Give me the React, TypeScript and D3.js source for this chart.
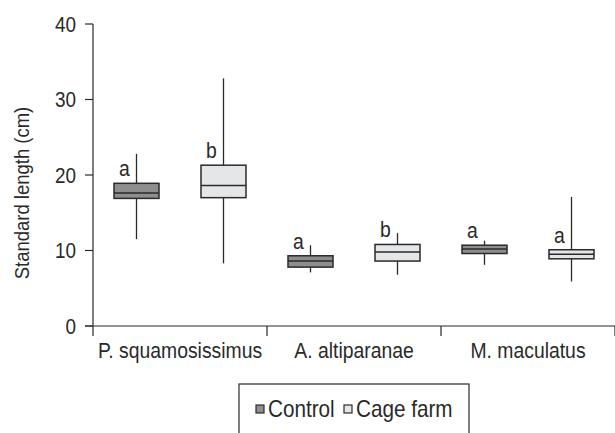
import * as d3 from "d3";

const species = ["P. squamosissimus", "A. altiparanae", "M. maculatus"];
const groups = ["Control", "Cage farm"];
const groupFill = ["#8e8e90", "#e5e6e8"];

// [min, q1, median, q3, max]
const controlStats = [
  [11.5, 16.9, 17.6, 18.9, 22.8],
  [7.1, 7.8, 8.6, 9.3, 10.7],
  [8.1, 9.6, 10.2, 10.7, 11.3],
];
const cageStats = [
  [8.3, 17.0, 18.6, 21.3, 32.8],
  [6.8, 8.6, 9.8, 10.8, 12.3],
  [5.9, 8.9, 9.5, 10.1, 17.1],
];
const controlLetters = ["a", "a", "a"];
const cageLetters = ["b", "b", "a"];
const yTicks = [0, 10, 20, 30, 40];

const width = 615;
const height = 433;
const marginLeft = 93;
const marginTop = 24;
const plotBottom = 326;
const font = "'Liberation Sans', Arial, sans-serif";
const ink = "#2a2a2a";

// narrow-looking text: a taller font squeezed horizontally
function Label({
  x,
  y,
  size,
  anchor = "start",
  squeeze = 0.88,
  rotate = 0,
  dy,
  children,
}: {
  x: number;
  y: number;
  size: number;
  anchor?: string;
  squeeze?: number;
  rotate?: number;
  dy?: string;
  children: React.ReactNode;
}) {
  return (
    <text
      transform={`translate(${x},${y}) rotate(${rotate}) scale(${squeeze},1)`}
      textAnchor={anchor}
      fontSize={size}
      dy={dy}
      fill={ink}
    >
      {children}
    </text>
  );
}

export default function App() {
  const y = d3.scaleLinear().domain([0, 40]).range([plotBottom, marginTop]);
  const x = d3.scaleBand<string>().domain(species).range([marginLeft, width]);
  const sub = d3
    .scalePoint<string>()
    .domain(groups)
    .range([0, x.bandwidth()])
    .padding(0.5);
  const boxW = 45;

  const series = [controlStats, cageStats];
  const letters = [controlLetters, cageLetters];
  const boundaries = [...species.map((s) => x(s)!), width];

  return (
    <div style={{ position: "fixed", left: 0, top: 0 }}>
      <svg width={width} height={height} style={{ display: "block" }} fontFamily={font}>
        <rect width={width} height={height} fill="#fff" />
        {/* y axis */}
        <line x1={marginLeft} x2={marginLeft} y1={y(40)} y2={plotBottom} stroke={ink} strokeWidth={1.2} />
        {yTicks.map((t) => (
          <g key={t}>
            <line x1={marginLeft - 8} x2={marginLeft} y1={y(t)} y2={y(t)} stroke={ink} strokeWidth={1.2} />
            <Label x={marginLeft - 17} y={y(t)} dy="0.36em" anchor="end" size={22} squeeze={0.86}>
              {t}
            </Label>
          </g>
        ))}
        <Label x={29} y={(y(40) + plotBottom) / 2 + 18} rotate={-90} anchor="middle" size={21} squeeze={0.88}>
          Standard length (cm)
        </Label>
        {/* x axis */}
        <line x1={marginLeft - 8} x2={width} y1={plotBottom} y2={plotBottom} stroke={ink} strokeWidth={1.2} />
        {boundaries.map((b, i) => (
          <line key={i} x1={b} x2={b} y1={plotBottom} y2={plotBottom + 10} stroke={ink} strokeWidth={1.2} />
        ))}
        {species.map((s) => (
          <Label key={s} x={x(s)! + x.bandwidth() / 2} y={plotBottom + 32} anchor="middle" size={22} squeeze={0.88}>
            {s}
          </Label>
        ))}
        {/* boxes */}
        {series.map((stats, gi) =>
          stats.map((d, si) => {
            const cx = x(species[si])! + sub(groups[gi])!;
            const [mn, q1, med, q3, mx] = d;
            return (
              <g key={`${gi}-${si}`}>
                <line x1={cx} x2={cx} y1={y(mx)} y2={y(mn)} stroke={ink} strokeWidth={1.3} />
                <rect
                  x={cx - boxW / 2}
                  y={y(q3)}
                  width={boxW}
                  height={y(q1) - y(q3)}
                  fill={groupFill[gi]}
                  stroke={ink}
                  strokeWidth={1.5}
                />
                <line x1={cx - boxW / 2} x2={cx + boxW / 2} y1={y(med)} y2={y(med)} stroke={ink} strokeWidth={1.5} />
                <Label x={cx - 12} y={y(q3) - 7} anchor="middle" size={22} squeeze={0.88}>
                  {letters[gi][si]}
                </Label>
              </g>
            );
          })
        )}
        {/* legend */}
        <rect x={239} y={384} width={230} height={60} fill="none" stroke={ink} strokeWidth={1.2} />
        {groups.map((g, i) => {
          const lx = i === 0 ? 256 : 344;
          return (
            <g key={g}>
              <rect x={lx} y={405} width={8} height={8} fill={groupFill[i]} stroke={ink} strokeWidth={1.2} />
              <Label x={lx + 12} y={417} size={23} squeeze={0.9}>
                {g}
              </Label>
            </g>
          );
        })}
      </svg>
    </div>
  );
}
